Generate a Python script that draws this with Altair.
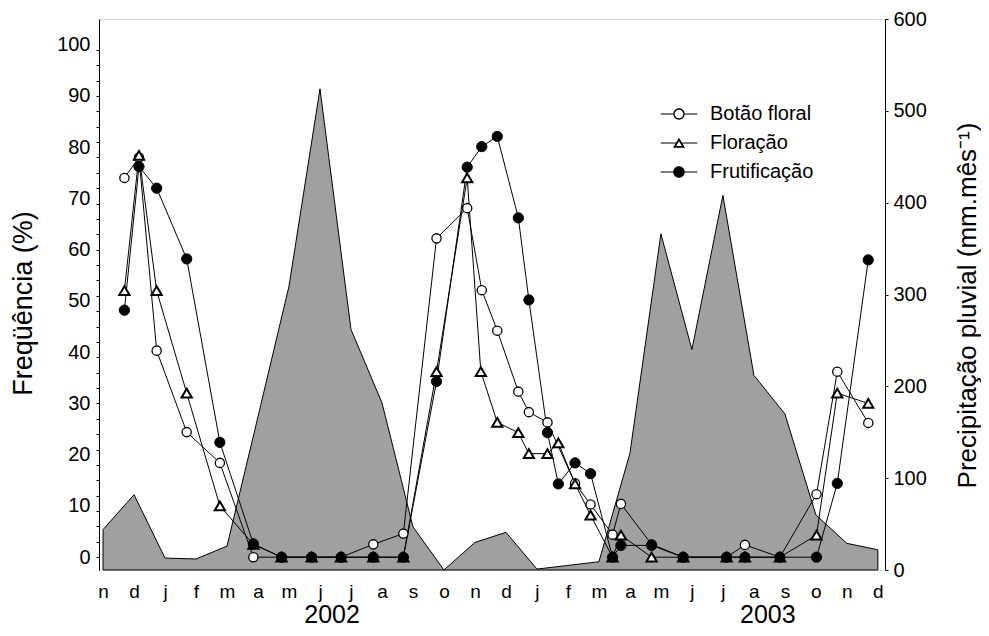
import json
import altair as alt
import pandas as pd

# ---------------- data ----------------
months = ["n", "d", "j", "f", "m", "a", "m", "j", "j", "a", "s", "o", "n",
          "d", "j", "f", "m", "a", "m", "j", "j", "a", "s", "o", "n", "d"]
precip = [44, 82, 13, 12, 26, 167, 309, 524, 262, 182, 47, 0, 30,
          41, 1, 5, 9, 127, 366, 240, 408, 212, 170, 60, 29, 22]

botao_x = [0.69, 1.16, 1.73, 2.70, 3.77, 4.85, 5.76, 6.73, 7.68, 8.72, 9.69,
           10.76, 11.75, 12.22, 12.72, 13.40, 13.74, 14.34, 15.23, 15.73,
           16.44, 16.71, 17.70, 18.72, 20.12, 20.71, 21.84, 23.02, 23.69, 24.69]
botao_y = [74, 78, 40.3, 24.4, 18.4, 0, 0, 0, 0, 2.5, 4.6,
           62.2, 68.1, 52.1, 44.2, 32.3, 28.3, 26.3, 14.4, 10.3,
           4.4, 10.4, 2.5, 0, 0, 2.4, 0, 12.3, 36.2, 26.2]

flor_x = [0.69, 1.16, 1.73, 2.70, 3.77, 4.85, 5.76, 6.73, 7.68, 8.72, 9.69,
          10.76, 11.75, 12.19, 12.72, 13.40, 13.74, 14.34, 14.69, 15.23, 15.73,
          16.44, 16.71, 17.70, 18.72, 20.12, 20.71, 21.84, 23.02, 23.69, 24.69]
flor_y = [52, 78.4, 52, 32, 10, 2.5, 0, 0, 0, 0, 0,
          36.2, 74, 36.2, 26.3, 24.3, 20.2, 20.2, 22.3, 14.3, 8.2,
          0, 4.3, 0, 0, 0, 0, 0, 4.3, 32, 30]

frut_x = [0.69, 1.16, 1.73, 2.70, 3.77, 4.85, 5.76, 6.73, 7.68, 8.72, 9.69,
          10.76, 11.75, 12.22, 12.72, 13.40, 13.74, 14.34, 14.69, 15.23, 15.73,
          16.44, 16.71, 17.70, 18.72, 20.12, 20.71, 21.84, 23.02, 23.69, 24.69]
frut_y = [48.2, 76.2, 72, 58.2, 22.4, 2.6, 0, 0, 0, 0, 0,
          34.3, 76.1, 80.1, 82.1, 66.2, 50.2, 24.3, 14.3, 18.4, 16.3,
          0, 2.3, 2.3, 0, 0, 0, 0, 0, 14.4, 58]

series_names = ["Botão floral", "Floração", "Frutificação"]
years = ["2002", "2003"]
year_pos = [7.39, 21.45]

# ---------------- tables ----------------
precip_df = pd.DataFrame({"x": list(range(len(months))), "precip": precip})
long_df = pd.concat([
    pd.DataFrame({"x": botao_x, "value": botao_y, "series": series_names[0]}),
    pd.DataFrame({"x": flor_x, "value": flor_y, "series": series_names[1]}),
    pd.DataFrame({"x": frut_x, "value": frut_y, "series": series_names[2]}),
], ignore_index=True)
year_df = pd.DataFrame({"year": years, "x": year_pos})

FONT = "Liberation Sans"

x_enc = alt.X(
    "x:Q",
    scale=alt.Scale(domain=[-0.13, 25.23], nice=False, zero=False),
    axis=alt.Axis(
        values=list(range(len(months))),
        labelExpr=json.dumps(months) + "[datum.value]",
        domain=False, ticks=False, grid=False, title=None,
        labelPadding=12, labelFontSize=19, labelFont=FONT, labelColor="black",
        labelOverlap=False, labelFlush=False,
    ),
)

left_vals = sorted(set(range(0, 100, 3)) | set(range(0, 101, 10)))
y_left = alt.Y(
    "value:Q",
    scale=alt.Scale(domain=[-2.5, 105], nice=False, zero=False),
    axis=alt.Axis(
        orient="left",
        values=left_vals,
        labelExpr="datum.value % 10 === 0 ? datum.label : ''",
        tickOpacity={"condition": {"test": "datum.value % 3 !== 0", "value": 0}, "value": 1},
        tickSize=3, tickColor="black", domainColor="black", grid=False,
        labelPadding=6, labelFontSize=20, labelFont=FONT, labelColor="black",
        labelOverlap=False, labelFlush=False,
        title="Freqüência (%)", titleFontSize=27, titleFont=FONT,
        titleFontWeight="normal", titleColor="black", titlePadding=19,
        titleY=284,
    ),
)

y_right = alt.Y(
    "precip:Q",
    scale=alt.Scale(domain=[0, 600], nice=False),
    axis=alt.Axis(
        orient="right",
        values=[0, 100, 200, 300, 400, 500, 600],
        tickSize=3, tickColor="black", domainColor="black", grid=False,
        labelPadding=5, labelFontSize=20, labelFont=FONT, labelColor="black",
        labelOverlap=False, labelFlush=False,
        title="Precipitação pluvial (mm.mês⁻¹)", titleFontSize=26, titleFont=FONT,
        titleFontWeight="normal", titleColor="black", titlePadding=28,
        titleAngle=270, titleBaseline="top", titleY=286,
    ),
)

area = alt.Chart(precip_df).mark_area(
    fill="#a0a0a0", stroke="black", strokeWidth=1, opacity=1
).encode(x=x_enc, y=y_right)

lines = alt.Chart(long_df).mark_line(color="black", strokeWidth=1).encode(
    x=x_enc, y=y_left, detail="series:N", order=alt.Order("x:Q")
)

p_botao = alt.Chart(long_df).transform_filter(
    alt.datum.series == series_names[0]
).mark_point(shape="circle", filled=True, fill="white", stroke="black",
             strokeWidth=1.3, size=85, opacity=1).encode(x=x_enc, y=y_left)

p_flor = alt.Chart(long_df).transform_filter(
    alt.datum.series == series_names[1]
).mark_point(shape="triangle-up", filled=True, fill="white", stroke="black",
             strokeWidth=2, size=105, opacity=1).encode(x=x_enc, y=y_left)

p_frut = alt.Chart(long_df).transform_filter(
    alt.datum.series == series_names[2]
).mark_point(shape="circle", filled=True, fill="black", stroke="black",
             strokeWidth=1, size=105, opacity=1).encode(x=x_enc, y=y_left)

# legend glyphs: filled outlines (line stubs + ring / hollow triangle / disc)
ring = ("M-1.13,0A1.13,1.13,0,1,1,1.13,0A1.13,1.13,0,1,1,-1.13,0Z"
        "M-0.87,0A0.87,0.87,0,1,0,0.87,0A0.87,0.87,0,1,0,-0.87,0Z")
stubs_c = "M-3.66,-0.11L-1.13,-0.11L-1.13,0.11L-3.66,0.11ZM1.13,-0.11L3.66,-0.11L3.66,0.11L1.13,0.11Z"
tri = ("M0,-1.05L-1.2,0.95L1.2,0.95Z"
       "M0,-0.35L0.564,0.59L-0.564,0.59Z")
stubs_t = "M-3.66,-0.11L-0.63,-0.11L-0.63,0.11L-3.66,0.11ZM0.63,-0.11L3.66,-0.11L3.66,0.11L0.63,0.11Z"
disc = "M-1.15,0A1.15,1.15,0,1,1,1.15,0A1.15,1.15,0,1,1,-1.15,0Z"
stubs_d = "M-3.66,-0.11L-1.15,-0.11L-1.15,0.11L-3.66,0.11ZM1.15,-0.11L3.66,-0.11L3.66,0.11L1.15,0.11Z"
legend_paths = [stubs_c + ring, stubs_t + tri, stubs_d + disc]

leg = alt.Legend(
    title=None, orient="none", legendX=570, legendY=85,
    labelFontSize=20, labelFont=FONT, labelColor="black",
    symbolSize=100, symbolStrokeWidth=0, symbolFillColor="black",
    symbolOpacity=1, labelOffset=21, rowPadding=9, padding=0,
)
legend_layer = alt.Chart(long_df).mark_point(
    filled=True, color="black", opacity=0
).encode(
    x=x_enc, y=y_left,
    shape=alt.Shape("series:N", scale=alt.Scale(domain=series_names, range=legend_paths), legend=leg),
)

years_layer = alt.Chart(year_df).mark_text(
    fontSize=25, font=FONT, color="black", align="center", baseline="middle"
).encode(x=x_enc, y=alt.value(596), text="year:N")

left_group = alt.layer(lines, p_botao, p_flor, p_frut, legend_layer)

chart = alt.layer(area, left_group, years_layer).resolve_scale(
    y="independent"
).properties(
    width=786, height=551,
    padding={"left": 91, "top": 11, "right": 96, "bottom": 58},
    autosize=alt.AutoSizeParams(type="none"),
).configure_view(stroke=None).configure(font=FONT)

chart.save("out.html", embed_options={"renderer": "svg", "actions": False})
